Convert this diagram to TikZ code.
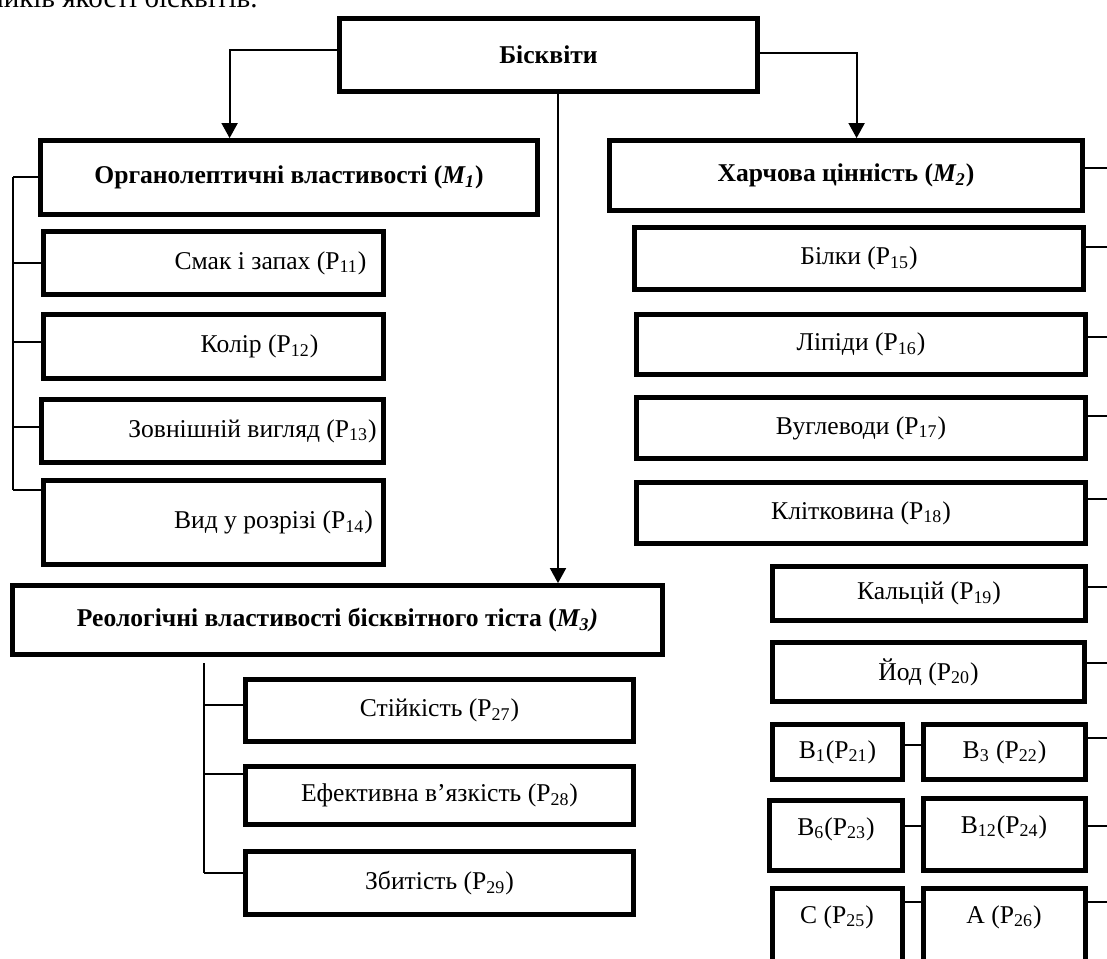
\documentclass[tikz,border=0pt]{standalone}
\usepackage{fontspec}
\setmainfont{Liberation Serif}
\usetikzlibrary{arrows.meta,calc}
\newcommand\bx[7][bbox]{\node[#1,minimum width={(#5-#3-5)*0.5pt},minimum height={(#6-#4-5)*0.5pt}] (#2) at ({(#3+#5)/2},{(#4+#6)/2}) {#7};}
\begin{document}
\begin{tikzpicture}[x=0.5pt,y=-0.5pt,
  bbox/.style={draw,line width=2.4pt,inner sep=0pt,font=\fontsize{12.8}{15}\selectfont},
  hbox/.style={bbox,font=\fontsize{12.8}{15}\selectfont\bfseries},
  lbl/.style={inner sep=0pt,font=\fontsize{12.8}{15}\selectfont},
  conn/.style={line width=0.9pt},
  arr/.style={conn,-{Triangle[width=8pt,length=7.5pt]}}]
\useasboundingbox (0,0) rectangle (1107,958);
\node[lbl,anchor=base east,font=\fontsize{14.5}{16}\selectfont] (cap) at (258,7) {показників якості бісквітів.};
% top
\bx[hbox]{bisk}{337}{16}{760}{94}{Бісквіти}
% left column
\bx[hbox]{m1}{38}{138}{540}{217}{Органолептичні властивості (\textit{M\textsubscript{1}})}
\bx{p11}{41}{229}{386}{297}{\hspace*{57pt}Смак і запах (P\textsubscript{11})}
\bx{p12}{41}{312}{386}{381}{\hspace*{46pt}Колір (P\textsubscript{12})}
\bx{p13}{39}{397}{386}{465}{\hspace*{40pt}Зовнішній вигляд (P\textsubscript{13})}
\bx{p14}{41}{478}{386}{567}{\hspace*{60pt}Вид у розрізі (P\textsubscript{14})}
% M3
\bx[hbox]{m3}{10}{583}{665}{657}{Реологічні властивості бісквітного тіста (\textit{M\textsubscript{3})}}
\bx{p27}{243}{677}{636}{744}{Стійкість (P\textsubscript{27})}
\bx{p28}{243}{764}{636}{827}{Ефективна в’язкість (P\textsubscript{28})}
\bx{p29}{243}{849}{636}{917}{Збитість (P\textsubscript{29})}
% right column
\bx[hbox]{m2}{607}{138}{1085}{213}{Харчова цінність (\textit{M\textsubscript{2}})}
\bx{p15}{632}{225}{1086}{292}{Білки (P\textsubscript{15})}
\bx{p16}{634}{312}{1088}{377}{Ліпіди (P\textsubscript{16})}
\bx{p17}{634}{395}{1088}{461}{Вуглеводи (P\textsubscript{17})}
\bx{p18}{634}{480}{1088}{546}{Клітковина (P\textsubscript{18})}
\bx{p19}{770}{564}{1088}{623}{Кальцій (P\textsubscript{19})}
\bx{p20}{770}{640}{1087}{704}{Йод (P\textsubscript{20})}
\bx{b1}{770}{722}{905}{782}{B\textsubscript{1}(P\textsubscript{21})}
\bx{b3}{921}{722}{1088}{782}{B\textsubscript{3} (P\textsubscript{22})}
\bx{b6}{767}{798}{905}{873}{}
\bx{b12}{921}{796}{1088}{873}{}
\bx{c}{770}{886}{905}{1000}{}
\bx{a}{921}{886}{1088}{1000}{}
\node[lbl] (b6t) at (836,829) {B\textsubscript{6}(P\textsubscript{23})};
\node[lbl] (b12t) at (1004,827) {B\textsubscript{12}(P\textsubscript{24})};
\node[lbl] (ct) at (837,917) {C (P\textsubscript{25})};
\node[lbl] (at) at (1004,917) {A (P\textsubscript{26})};
% arrows from top
\draw[arr] ([yshift=2.5pt]bisk.west) -| ([xshift=95.75pt]m1.north west);
\draw[arr] ([yshift=1pt]bisk.east) -| ([xshift=124.75pt]m2.north west);
\draw[arr] ([xshift=4.75pt]bisk.south) -- ([xshift=4.75pt]bisk.south |- m3.north);
% left bracket
\coordinate (lt) at (13,177);
\coordinate (lb) at (13,490);
\draw[conn] (lt) -- (lb);
\draw[conn] (lt) -- (lt -| m1.west);
\draw[conn] (p11.west) -- (p11.west -| lt);
\coordinate (l12) at (13,342);
\coordinate (l13) at (13,427);
\draw[conn] (l12) -- (l12 -| p12.west);
\draw[conn] (l13) -- (l13 -| p13.west);
\draw[conn] (lb) -- (lb -| p14.west);
% M3 bracket
\coordinate (mt) at (204,663);
\coordinate (m27) at (204,705);
\coordinate (m28) at (204,774);
\coordinate (mb) at (204,873);
\draw[conn] (mt) -- (mb);
\draw[conn] (m27) -- (m27 -| p27.west);
\draw[conn] (m28) -- (m28 -| p28.west);
\draw[conn] (mb) -- (mb -| p29.west);
% right stubs
\foreach \n/\yy in {m2/168,p15/247,p16/337,p17/416,p18/499,p19/587,p20/663,b3/738,b12/826,a/902}{
  \coordinate (e\n) at (1107,\yy);
  \draw[conn] (e\n) -- (e\n -| \n.east);
}
% pair connectors
\coordinate (k1) at (913,745);
\coordinate (k2) at (913,826);
\coordinate (k3) at (913,902);
\draw[conn] (k1 -| b1.east) -- (k1 -| b3.west);
\draw[conn] (k2 -| b6.east) -- (k2 -| b12.west);
\draw[conn] (k3 -| c.east) -- (k3 -| a.west);
\end{tikzpicture}
\end{document}
